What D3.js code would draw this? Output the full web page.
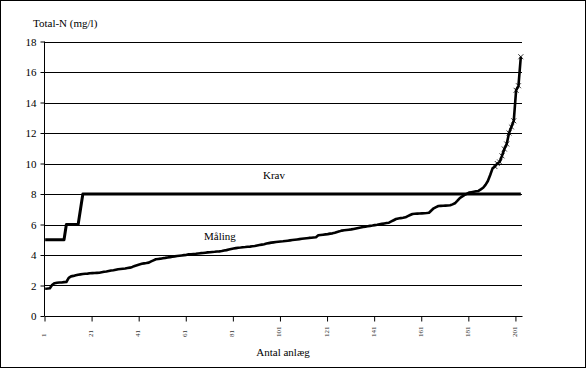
<!DOCTYPE html>
<html>
<head>
<meta charset="utf-8">
<script src="https://cdn.jsdelivr.net/npm/d3@7"></script>
<style>
  html, body { margin: 0; padding: 0; background: #fff; }
  svg { display: block; font-family: "Liberation Serif", "Times New Roman", serif; }
</style>
</head>
<body>
<svg id="chart" width="586" height="369"></svg>
<script>
// --- data ---
// measured Total-N per plant, sorted ascending (203 plants)
const maaling = [
  1.79, 1.80, 1.82, 2.05, 2.15, 2.18, 2.20, 2.20, 2.22, 2.23,
  2.50, 2.60, 2.63, 2.67, 2.71, 2.73, 2.75, 2.77, 2.78, 2.80,
  2.81, 2.82, 2.83, 2.84, 2.87, 2.90, 2.92, 2.95, 2.98, 3.00,
  3.03, 3.06, 3.08, 3.10, 3.12, 3.15, 3.17, 3.22, 3.28, 3.33,
  3.38, 3.42, 3.45, 3.47, 3.50, 3.58, 3.65, 3.72, 3.74, 3.76,
  3.79, 3.81, 3.84, 3.86, 3.89, 3.91, 3.93, 3.95, 3.97, 3.99,
  4.01, 4.04, 4.05, 4.07, 4.08, 4.10, 4.12, 4.13, 4.15, 4.17,
  4.18, 4.20, 4.21, 4.23, 4.24, 4.26, 4.29, 4.32, 4.36, 4.39,
  4.42, 4.45, 4.48, 4.49, 4.51, 4.52, 4.54, 4.55, 4.57, 4.59,
  4.62, 4.65, 4.68, 4.71, 4.75, 4.78, 4.81, 4.83, 4.85, 4.87,
  4.89, 4.90, 4.92, 4.94, 4.96, 4.98, 5.00, 5.02, 5.04, 5.06,
  5.08, 5.10, 5.12, 5.13, 5.15, 5.16, 5.29, 5.31, 5.33, 5.35,
  5.37, 5.40, 5.42, 5.46, 5.51, 5.55, 5.60, 5.62, 5.64, 5.66,
  5.68, 5.71, 5.74, 5.77, 5.80, 5.83, 5.86, 5.88, 5.91, 5.93,
  5.96, 5.98, 6.01, 6.04, 6.07, 6.10, 6.12, 6.20, 6.28, 6.36,
  6.39, 6.42, 6.44, 6.47, 6.55, 6.62, 6.69, 6.70, 6.71, 6.72,
  6.73, 6.74, 6.75, 6.77, 6.92, 7.06, 7.14, 7.21, 7.22, 7.23,
  7.24, 7.25, 7.26, 7.32, 7.39, 7.55, 7.72, 7.83, 7.93, 8.01,
  8.09, 8.12, 8.15, 8.18, 8.20, 8.30, 8.41, 8.60, 8.85, 9.25,
  9.68, 9.80, 10.00, 10.10, 10.50, 10.95, 11.28, 12.00, 12.40, 12.80,
  14.80, 15.10, 17.00
];
// requirement (Krav) as breakpoints: [plant no., mg/l]
const krav = [[1, 5], [9, 5], [10, 6], [15, 6], [16, 7], [17, 8], [203, 8]];
const markThreshold = 9.7;   // points above this get an x marker
const yTicks = [0, 2, 4, 6, 8, 10, 12, 14, 16, 18];
const xTicks = [0, 20, 40, 60, 80, 100, 120, 140, 160, 180, 200];
const nPlants = maaling.length;

// --- layout ---
const svg = d3.select("#chart");
const plotLeft = 44, plotRight = 522, plotTop = 41.5, plotBottom = 316;

const x = d3.scaleLinear().domain([0, nPlants]).range([plotLeft, plotRight]);
const y = d3.scaleLinear().domain([0, 18]).range([plotBottom, plotTop]);
const cx = n => x(n - 0.5); // centre of plant n (1-based)

// outer frame
svg.append("rect")
    .attr("x", 0.5).attr("y", 0.5)
    .attr("width", 585).attr("height", 367)
    .attr("fill", "none").attr("stroke", "#000").attr("stroke-width", 1);

// gridlines
svg.append("g")
    .selectAll("line")
    .data(yTicks.filter(d => d > 0))
    .join("line")
    .attr("x1", plotLeft).attr("x2", plotRight)
    .attr("y1", d => Math.round(y(d)) + 0.5)
    .attr("y2", d => Math.round(y(d)) + 0.5)
    .attr("stroke", "#000").attr("stroke-width", 1);

// --- axes ---
const yAxis = svg.append("g")
    .attr("transform", `translate(${plotLeft + 0.5},0)`)
    .call(d3.axisLeft(y).tickValues(yTicks).tickSize(4).tickPadding(4).tickFormat(d3.format("d")));
yAxis.select(".domain").attr("d", `M0,${y(18)}V${y(0)}`).attr("stroke", "#000");
yAxis.selectAll(".tick line").attr("stroke", "#000");
yAxis.selectAll("text")
    .attr("font-family", "Liberation Serif, serif")
    .attr("font-size", "11px").attr("fill", "#000");

const xAxis = svg.append("g")
    .attr("transform", `translate(0.5,${plotBottom + 0.5})`)
    .call(d3.axisBottom(x).tickValues(xTicks).tickSize(5).tickFormat(""));
xAxis.select(".domain").attr("d", `M${plotLeft},0H${plotRight}`).attr("stroke", "#000");
xAxis.selectAll(".tick line").attr("stroke", "#000");

// rotated (and squashed) category labels
svg.append("g")
    .selectAll("text")
    .data(xTicks)
    .join("text")
    .attr("transform", d => `translate(${x(d) + 2},337) rotate(-90)`)
    .attr("font-size", "7px")
    .attr("fill", "#333")
    .text(d => d + 1);

// --- series ---
const line = d3.line().x(d => cx(d[0])).y(d => y(d[1]));

svg.append("path")
    .datum(krav)
    .attr("d", line)
    .attr("fill", "none").attr("stroke", "#000").attr("stroke-width", 3)
    .attr("stroke-linejoin", "round");

svg.append("path")
    .datum(maaling.map((v, i) => [i + 1, v]))
    .attr("d", line)
    .attr("fill", "none").attr("stroke", "#000").attr("stroke-width", 2.6)
    .attr("stroke-linejoin", "round");

svg.append("g")
    .selectAll("path")
    .data(maaling.map((v, i) => [i + 1, v]).filter(d => d[1] > markThreshold))
    .join("path")
    .attr("transform", d => `translate(${cx(d[0])},${y(d[1])})`)
    .attr("d", "M-2.5,-2.5L2.5,2.5M-2.5,2.5L2.5,-2.5")
    .attr("stroke", "#000").attr("stroke-width", 0.8).attr("fill", "none");

// --- labels ---
svg.append("text").attr("x", 33).attr("y", 27)
    .attr("font-size", "11px").text("Total-N (mg/l)");
svg.append("text").attr("x", 283).attr("y", 356).attr("text-anchor", "middle")
    .attr("font-size", "11px").text("Antal anlæg");
svg.append("text").attr("x", 263).attr("y", 179)
    .attr("font-size", "11px").text("Krav");
svg.append("text").attr("x", 204).attr("y", 240)
    .attr("font-size", "11px").text("Måling");
</script>
</body>
</html>
